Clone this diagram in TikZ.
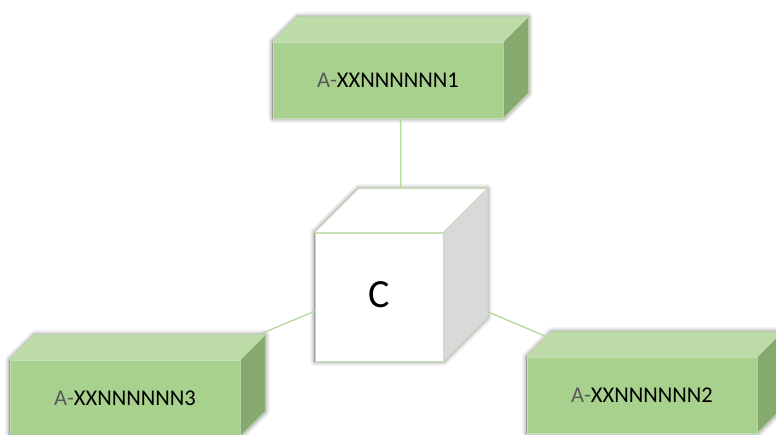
\documentclass[tikz,border=0pt]{standalone}
\usepackage{fontspec}
\setmainfont{Carlito}
\usetikzlibrary{calc}
\definecolor{frontgreen}{HTML}{A9D18E}
\definecolor{topgreen}{HTML}{BCDBA6}
\definecolor{sidegreen}{HTML}{86AA6E}
\definecolor{edgegreen}{HTML}{C5E0B4}
\definecolor{linkgreen}{HTML}{B3D89C}
\definecolor{labelgray}{HTML}{595959}
\definecolor{cubegray}{HTML}{D9D9D9}
\pgfdeclarelayer{bglayer}
\pgfdeclarelayer{shadowlayer}
\pgfdeclarelayer{linklayer}
\pgfsetlayers{bglayer,shadowlayer,linklayer,main}
\tikzset{
  frontface/.style={draw=edgegreen, line width=0.6pt, fill=frontgreen,
    minimum width=230pt, minimum height=76pt, inner sep=0pt,
    font=\fontsize{22.5}{22.5}\selectfont},
  topface/.style={draw=edgegreen, line width=0.6pt, fill=topgreen},
  sideface/.style={draw=edgegreen, line width=0.6pt, fill=sidegreen},
  softshadow/.style={fill=black, draw=black, line join=round, shift={(3,4)}},
  link/.style={draw=linkgreen, line width=1.3pt},
  cubefront/.style={draw=edgegreen, line width=0.9pt, fill=white,
    minimum size=128pt, inner sep=0pt, font=\fontsize{40}{40}\selectfont},
  cubetop/.style={draw=edgegreen, line width=0.9pt, fill=white},
  cubeside/.style={draw=edgegreen, line width=0.9pt, fill=cubegray},
}
\newcommand{\boxlabel}[1]{\textcolor{labelgray}{A-}XXNNNNNN#1}
\newcommand{\prismfaces}[4]{%
  \begin{pgfonlayer}{shadowlayer}
    \foreach \sw/\so in {9/0.05, 6/0.07, 3.5/0.09, 1/0.12}{
      \filldraw[softshadow, line width=\sw pt, opacity=\so]
        (#1.south west) -- (#1.north west) -- ++(#2,-#2)
        -- ($(#1.north east)+(#2,-#2)$) -- ($(#1.south east)+(#2,-#2)$)
        -- (#1.south east) -- cycle;
    }
  \end{pgfonlayer}
  \filldraw[#3] (#1.north west) -- ++(#2,-#2)
    -- ($(#1.north east)+(#2,-#2)$) -- (#1.north east) -- cycle;
  \filldraw[#4] (#1.north east) -- ++(#2,-#2)
    -- ($(#1.south east)+(#2,-#2)$) -- (#1.south east) -- cycle;
}
\begin{document}
\begin{tikzpicture}[x=1pt,y=-1pt]
\begin{pgfonlayer}{bglayer}
  \fill[white] (0,0) rectangle (776,434);
\end{pgfonlayer}
\useasboundingbox (0,0) rectangle (776,434);
% front faces
\node[frontface] (b1) at (388,80) {\boxlabel{1}};
\node[frontface] (b2) at (642,395) {\boxlabel{2}};
\node[frontface] (b3) at (125,398) {\boxlabel{3}};
\node[cubefront] (c) at (379,297) {\raisebox{4pt}{C}};
% depth faces and shadows
\prismfaces{b1}{25}{topface}{sideface}
\prismfaces{b2}{25}{topface}{sideface}
\prismfaces{b3}{25}{topface}{sideface}
\prismfaces{c}{44}{cubetop}{cubeside}
% centres of the solids
\coordinate (b1m) at ($(b1.center)+(12.5,-12.5)$);
\coordinate (b2m) at ($(b2.center)+(12.5,-12.5)$);
\coordinate (b3m) at ($(b3.center)+(12.5,-12.5)$);
\coordinate (cm) at ($(c.center)+(22,-22)$);
\begin{pgfonlayer}{linklayer}
  \draw[link] (b1m) -- (cm);
  \draw[link] (cm) -- (b2m);
  \draw[link] (cm) -- (b3m);
\end{pgfonlayer}
\end{tikzpicture}
\end{document}
